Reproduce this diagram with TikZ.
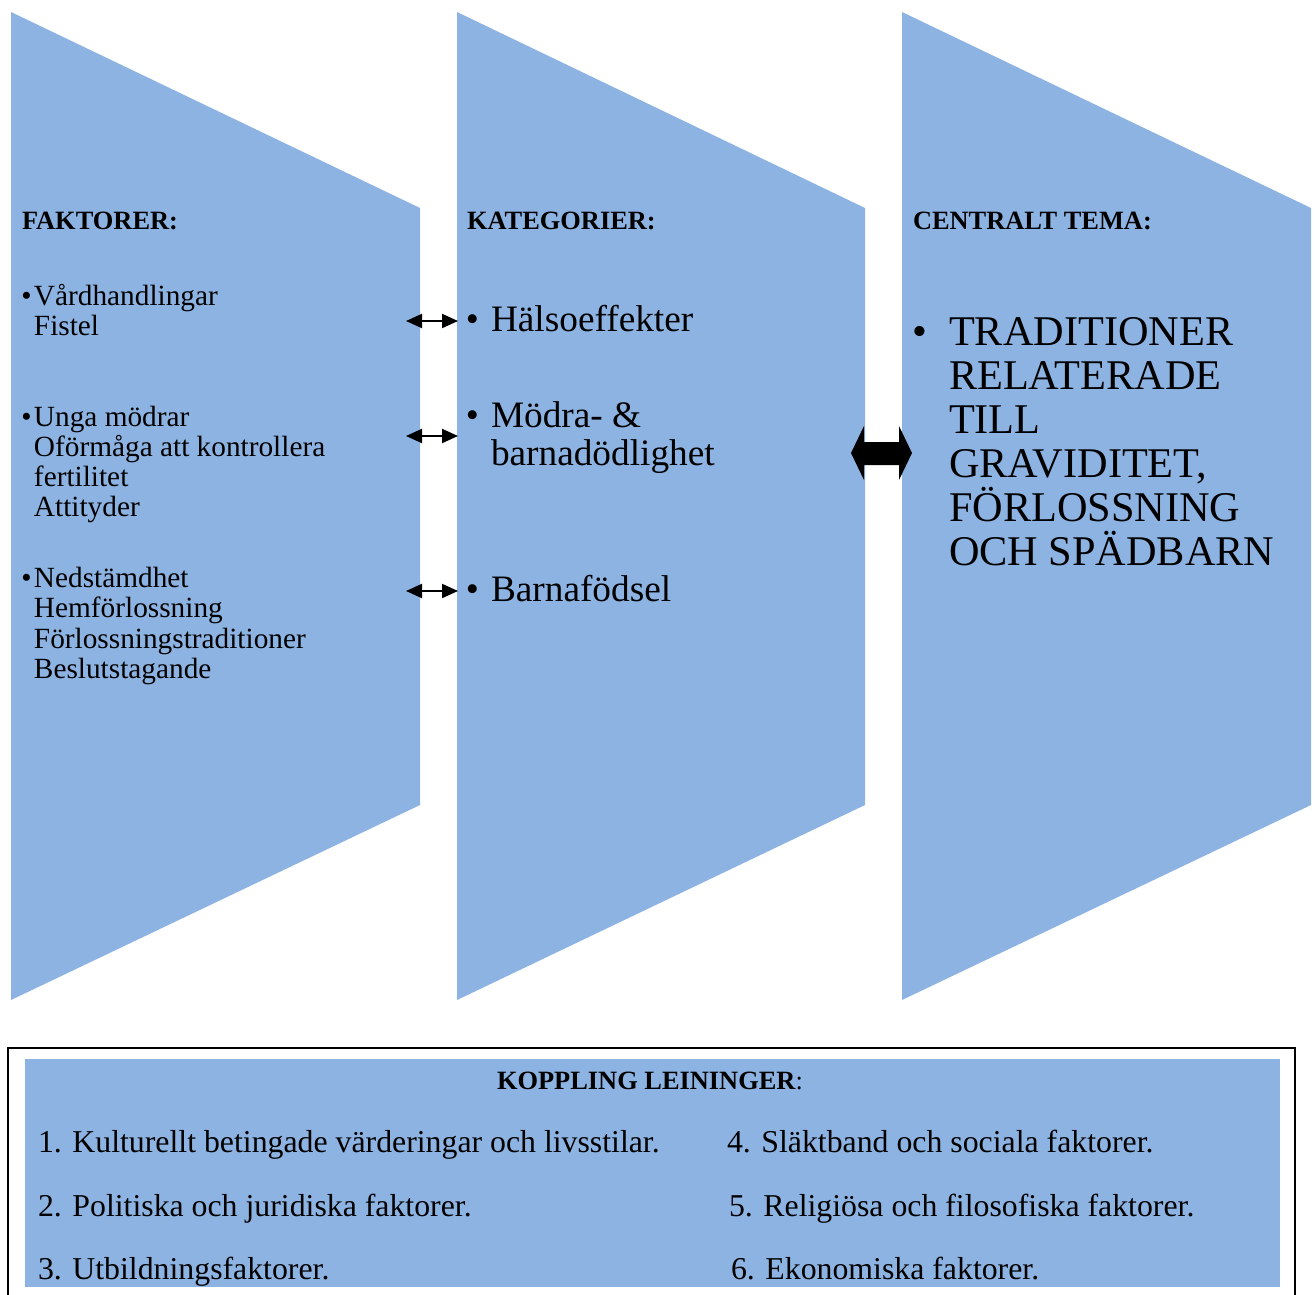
\documentclass[tikz,border=0pt]{standalone}
\usepackage{fontspec}
\setmainfont{Liberation Serif}
\usetikzlibrary{arrows.meta}
\definecolor{panelblue}{RGB}{141,179,226}
\newcommand\fsz[1]{\fontsize{#1pt}{#1pt}\selectfont}
\begin{document}
\begin{tikzpicture}[x=1pt,y=-1pt,
  panel/.style={fill=panelblue,draw=none},
  txt/.style={anchor=base west,inner sep=0pt,outer sep=0pt},
  bul/.style={anchor=base,inner sep=0pt,outer sep=0pt},
  head/.style={txt,font=\fsz{26.4}\bfseries},
  small/.style={txt,font=\fsz{29.3}},
  mid/.style={txt,font=\fsz{37.3}},
  big/.style={txt,font=\fsz{42.3}},
  list/.style={txt,font=\fsz{31.8}},
  link/.style={line width=2pt,{Triangle[length=16pt,width=14pt]}-{Triangle[length=16pt,width=14pt]}}
]
\useasboundingbox (0,0) rectangle (1315,1295);

% three chevron panels
\fill[panel] (11,12) -- (420,208) -- (420,805) -- (11,1000) -- cycle;
\fill[panel] (457,12) -- (865,208) -- (865,805) -- (457,1000) -- cycle;
\fill[panel] (902,12) -- (1311,208) -- (1311,805) -- (902,1000) -- cycle;

% headers
\node[head] (hf) at (22,229) {FAKTORER:};
\node[head] (hk) at (467,229) {KATEGORIER:};
\node[head] (hc) at (913,229) {CENTRALT TEMA:};

% factors
\node[bul,font=\fsz{29.3}] (b1) at (26.5,305) {•};
\node[small] (f1) at (34,305) {Vårdhandlingar};
\node[small] (f2) at (34,335) {Fistel};
\node[bul,font=\fsz{29.3}] (b2) at (26.5,426) {•};
\node[small] (f3) at (34,426) {Unga mödrar};
\node[small] (f4) at (34,456) {Oförmåga att kontrollera};
\node[small] (f5) at (34,486) {fertilitet};
\node[small] (f6) at (34,516) {Attityder};
\node[bul,font=\fsz{29.3}] (b3) at (26.5,587) {•};
\node[small] (f7) at (34,587) {Nedstämdhet};
\node[small] (f8) at (34,617) {Hemförlossning};
\node[small] (f9) at (34,648) {Förlossningstraditioner};
\node[small] (f10) at (34,678) {Beslutstagande};

% categories
\node[bul,font=\fsz{37.3}] (c1b) at (472.5,331) {•};
\node[mid] (c1) at (491,331) {Hälsoeffekter};
\node[bul,font=\fsz{37.3}] (c2b) at (472.5,427) {•};
\node[mid] (c2) at (491,427) {Mödra- \&};
\node[mid] (c2x) at (491,465) {barnadödlighet};
\node[bul,font=\fsz{37.3}] (c3b) at (472.5,601) {•};
\node[mid] (c3) at (491,601) {Barnafödsel};

% central theme
\node[bul,font=\fsz{42.3}] (tb) at (920,345) {•};
\node[big] (t1) at (949,345) {TRADITIONER};
\node[big] (t2) at (949,389) {RELATERADE};
\node[big] (t3) at (949,433) {TILL};
\node[big] (t4) at (949,477) {GRAVIDITET,};
\node[big] (t5) at (949,521) {FÖRLOSSNING};
\node[big] (t6) at (949,565) {OCH SPÄDBARN};

% links between factors and categories
\coordinate (l1a) at (406,321); \coordinate (l1b) at (458,321);
\coordinate (l2a) at (406,436); \coordinate (l2b) at (458,436);
\coordinate (l3a) at (406,591); \coordinate (l3b) at (458,591);
\draw[link] (l1a) -- (l1b);
\draw[link] (l2a) -- (l2b);
\draw[link] (l3a) -- (l3b);

% thick double arrow to the central theme
\fill[black] (851,453) -- (864,426) -- (864,442) -- (899,442) -- (899,426)
  -- (912,453) -- (899,480) -- (899,465) -- (864,465) -- (864,480) -- cycle;

% Leininger box
\draw[line width=2pt] (8,1048) rectangle (1295,1320);
\fill[panel] (25,1059) rectangle (1280,1287);
\node[txt,font=\fsz{26.4}] (kl) at (497,1089) {\textbf{KOPPLING LEININGER}:};
\node[list] (k1) at (38,1152) {1. Kulturellt betingade värderingar och livsstilar.};
\node[list] (k2) at (38,1216) {2. Politiska och juridiska faktorer.};
\node[list] (k3) at (38,1279) {3. Utbildningsfaktorer.};
\node[list] (k4) at (727,1152) {4. Släktband och sociala faktorer.};
\node[list] (k5) at (729,1216) {5. Religiösa och filosofiska faktorer.};
\node[list] (k6) at (731,1279) {6. Ekonomiska faktorer.};
\end{tikzpicture}
\end{document}
